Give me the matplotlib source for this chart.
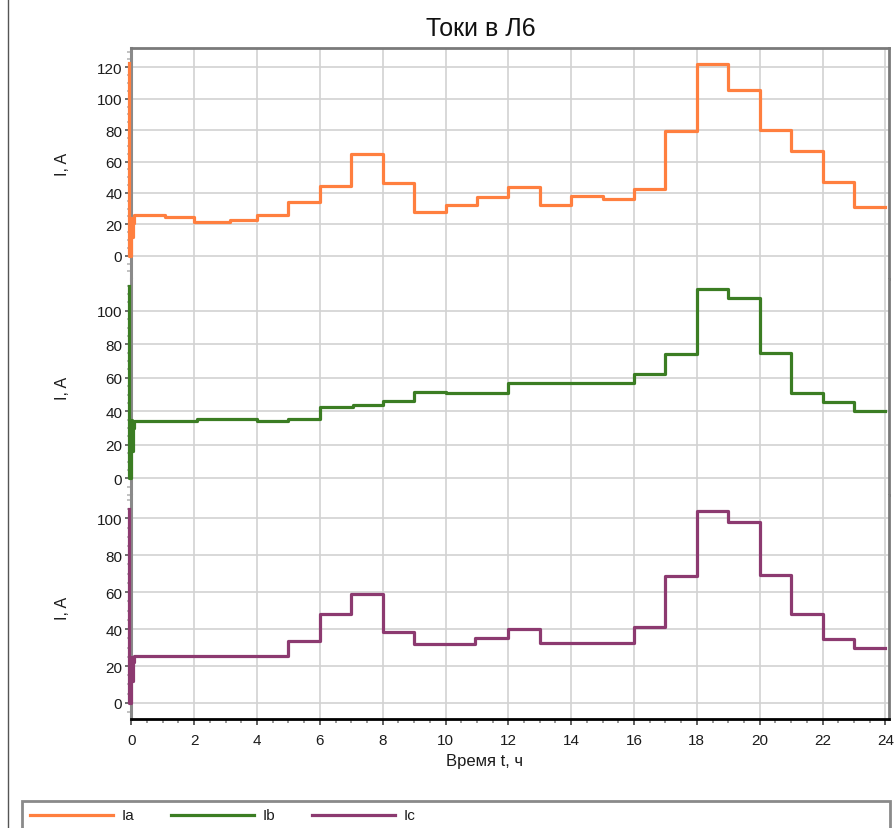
import matplotlib.pyplot as plt
from matplotlib.ticker import MultipleLocator
from matplotlib.lines import Line2D
from matplotlib.patches import Rectangle

plt.rcParams['font.family'] = ['Liberation Sans', 'DejaVu Sans']

# моменты переключения ступеней (ч) и токи фаз (А)
t_a = [-0.09, -0.07, -0.01, 0.02, 0.05, 0.1, 1.08, 2.0, 3.14, 4.0, 5.0, 6.0, 7.0, 8.0,
       9.0, 10.0, 11.0, 12.0, 13.0, 14.0, 15.0, 16.0, 17.0, 18.0, 19.0, 20.0, 21.0,
       22.0, 23.0, 24.0]
ia = [123, 0, 24, 12, 21, 25.9, 24.9, 21.7, 22.9, 25.9, 34.4, 44.6, 64.8, 46.1,
      27.6, 32.5, 37.2, 43.9, 32.5, 38.2, 36.1, 42.5, 79.6, 122.1, 105.7, 80.3, 66.9,
      46.7, 30.8, 30.8]

t_b = [-0.09, -0.07, -0.01, 0.02, 0.05, 0.1, 2.1, 4.0, 5.0, 6.0, 7.07, 8.0, 9.0,
       10.0, 12.0, 16.0, 17.0, 18.0, 19.0, 20.0, 21.0, 22.0, 23.0, 24.0]
ib = [115, 0, 35, 16.5, 30, 34.4, 35.4, 34.4, 35.4, 42.4, 43.5, 45.9, 51.5,
      50.7, 56.7, 62.2, 74.2, 112.9, 107.4, 74.6, 50.9, 45.3, 40.2, 40.2]

t_c = [-0.09, -0.07, -0.01, 0.02, 0.05, 0.1, 5.0, 6.0, 7.0, 8.0, 9.0, 10.95, 12.0,
       13.0, 16.0, 17.0, 18.0, 19.0, 20.0, 21.0, 22.0, 23.0, 24.0]
ic = [105, 0, 25, 12, 22, 25.3, 33.7, 48.2, 59.2, 38.6, 31.9, 35.4, 40.1,
      32.6, 41, 68.9, 103.8, 98.2, 69.3, 48.2, 34.7, 29.6, 29.6]

names = ['Ia', 'Ib', 'Ic']
colors = ['#ff7f3f', '#3b7d23', '#8c3a70']
ylims = [(-14.8, 132.3), (-10, 119), (-8.7, 112.6)]
series = [(t_a, ia), (t_b, ib), (t_c, ic)]

W, H = 896, 829
fig = plt.figure(figsize=(W / 100, H / 100), dpi=100)

left, right = 130.7 / W, 888.5 / W
# границы трёх областей по вертикали, пиксели
bounds = [49, 280, 496, 720]

axes = []
for i, ((t, v), col, yl) in enumerate(zip(series, colors, ylims)):
    y0, y1 = 1 - bounds[i + 1] / H, 1 - bounds[i] / H
    ax = fig.add_axes([left, y0, right - left, y1 - y0])
    axes.append(ax)
    ax.plot(t, v, drawstyle='steps-post', color=col, lw=2.3, clip_on=False, zorder=3)
    ax.set_xlim(-0.02, 24.1)
    ax.set_ylim(*yl)
    ax.xaxis.set_major_locator(MultipleLocator(2))
    ax.xaxis.set_minor_locator(MultipleLocator(0.5))
    ax.yaxis.set_major_locator(MultipleLocator(20))
    ax.yaxis.set_minor_locator(MultipleLocator(5))
    ax.grid(True, which='major', color='#d2d2d2', lw=1.2)
    ax.set_axisbelow(True)
    ax.tick_params(axis='y', which='major', length=4, width=1.2, color='#555555',
                   labelsize=11, labelcolor='#1c1c1c', pad=2)
    ax.tick_params(axis='y', which='minor', length=3, width=1.2, color='#b8b8b8')
    ax.set_ylabel('I, A', fontsize=11.5, color='#1c1c1c')
    ax.yaxis.set_label_coords((70 - 130.7) / (888.5 - 130.7), 0.5)
    for s in ['top', 'bottom']:
        ax.spines[s].set_visible(False)
    ax.spines['left'].set_color('#8a8a8a')
    ax.spines['left'].set_linewidth(2.2)
    ax.spines['right'].set_color('#7a7a7a')
    ax.spines['right'].set_linewidth(2)
    if i < 2:
        ax.tick_params(axis='x', which='both', bottom=False, labelbottom=False)

axes[0].spines['top'].set_visible(True)
axes[0].spines['top'].set_color('#7a7a7a')
axes[0].spines['top'].set_linewidth(2)

axb = axes[2]
axb.spines['bottom'].set_visible(True)
axb.spines['bottom'].set_color('black')
axb.spines['bottom'].set_linewidth(2)
axb.tick_params(axis='x', which='major', length=4, width=1.2, color='#444444',
                labelsize=11, labelcolor='#1c1c1c', pad=6)
axb.tick_params(axis='x', which='minor', length=3, width=1.2, color='#888888')
axb.set_xlabel('Время t, ч', fontsize=12, color='#1c1c1c')
axb.xaxis.set_label_coords((485 - 130.7) / (888.5 - 130.7), -(754 - 720) / (720 - 496))

fig.text(481 / W, 1 - 29 / H, 'Токи в Л6', ha='center', va='center', fontsize=18,
         color='#111111')

# рамка окна слева
fig.add_artist(Line2D([8 / W, 8 / W], [0, 1], color='#555555', lw=1,
                      transform=fig.transFigure))

# легенда внизу
fig.add_artist(Rectangle((22 / W, -0.05), (890 - 22) / W, 0.05 + 1 - 802 / H,
                         transform=fig.transFigure, facecolor='white',
                         edgecolor='#8a8a8a', lw=2))
ly = 1 - 816 / H
for k, (name, col) in enumerate(zip(names, colors)):
    x0 = 30 + k * 141
    fig.add_artist(Line2D([x0 / W, (x0 + 83) / W], [ly, ly], color=col, lw=2.3,
                          transform=fig.transFigure))
    fig.text((x0 + 92) / W, ly, name, ha='left', va='center', fontsize=11,
             color='#1c1c1c')

fig.savefig('out.png', dpi=100, facecolor='white')
